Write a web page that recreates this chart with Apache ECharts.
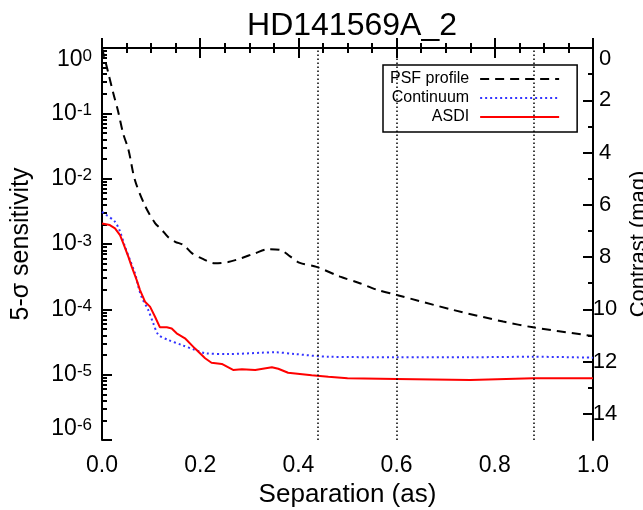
<!DOCTYPE html>
<html>
<head>
<meta charset="utf-8">
<script src="https://cdn.jsdelivr.net/npm/echarts@6/dist/echarts.min.js"></script>
<style>
  html, body { margin: 0; padding: 0; background: #fff; }
  #chart { width: 643px; height: 510px; }
</style>
</head>
<body>
<div id="chart"></div>
<script>
// separation (as) and 5-sigma sensitivity
const psfSep = [0, 0.013, 0.023, 0.033, 0.043, 0.054, 0.067, 0.088, 0.108, 0.122, 0.134, 0.149, 0.166, 0.183, 0.203, 0.23, 0.257, 0.285, 0.312, 0.339, 0.363, 0.383, 0.403, 0.437, 0.485, 0.525, 0.559, 0.6, 0.715, 0.817, 0.878, 1.0]
const psfVal = [1.0, 0.41, 0.203, 0.106, 0.0494, 0.0275, 0.00955, 0.0038, 0.00209, 0.00164, 0.00129, 0.00108, 0.000966, 0.000724, 0.000603, 0.000507, 0.00053, 0.000611, 0.000724, 0.000832, 0.000813, 0.000646, 0.000513, 0.000447, 0.000316, 0.000251, 0.0002, 0.000166, 9.8e-5, 6.5e-5, 5.3e-5, 3.9e-5]

const contSep = [0, 0.006, 0.0265, 0.0367, 0.0468, 0.057, 0.0672, 0.074, 0.081, 0.094, 0.1045, 0.1147, 0.135, 0.162, 0.189, 0.21, 0.257, 0.325, 0.352, 0.393, 0.461, 0.6, 0.75, 0.878, 1.0]
const contVal = [3.1e-3, 2.88e-3, 2.19e-3, 1.55e-3, 9.1e-4, 5.7e-4, 3.55e-4, 2.22e-4, 1.52e-4, 9.8e-5, 6.1e-5, 4.1e-5, 3.4e-5, 2.85e-5, 2.4e-5, 2.13e-5, 2.07e-5, 2.17e-5, 2.2e-5, 2.07e-5, 1.88e-5, 1.85e-5, 1.85e-5, 1.88e-5, 1.82e-5]

const asdiSep = [0, 0.016, 0.0265, 0.0367, 0.0434, 0.0536, 0.0605, 0.0707, 0.0774, 0.0876, 0.0978, 0.108, 0.118, 0.132, 0.142, 0.152, 0.169, 0.189, 0.21, 0.223, 0.244, 0.267, 0.285, 0.312, 0.346, 0.359, 0.379, 0.427, 0.461, 0.5, 0.6, 0.75, 0.878, 1.0]
const asdiVal = [2.06e-3, 1.95e-3, 1.74e-3, 1.37e-3, 1.02e-3, 6.4e-4, 4.5e-4, 2.8e-4, 1.97e-4, 1.31e-4, 1.1e-4, 7.7e-5, 5.3e-5, 5.3e-5, 5.1e-5, 4.3e-5, 3.6e-5, 2.53e-5, 1.78e-5, 1.52e-5, 1.46e-5, 1.18e-5, 1.21e-5, 1.18e-5, 1.3e-5, 1.23e-5, 1.07e-5, 9.8e-6, 9.3e-6, 8.8e-6, 8.6e-6, 8.3e-6, 8.8e-6, 8.8e-6]

// vertical dotted markers
const markSep = [0.44, 0.6, 0.88]

// contrast (mag) ticks on the right
const magMajor = [0, 2, 4, 6, 8, 10, 12, 14]
const magMinor = [1, 3, 5, 7, 9, 11, 13]

// minor log ticks (2..9 in each decade), as log10 positions
const decades = [-6, -5, -4, -3, -2, -1]
const logMinor = []
decades.forEach(d => {
  for (let m = 2; m <= 9; m++) logMinor.push(d + Math.log10(m))
})

const font = 'Liberation Sans, Arial, Helvetica, sans-serif'
const pairs = (xs, ys) => xs.map((x, i) => [x, ys[i]])

const chart = echarts.init(document.getElementById('chart'), null, { renderer: 'canvas' })

const xCommon = {
  type: 'value',
  min: 0,
  max: 1,
  interval: 0.2,
  splitLine: { show: false },
  axisLine: { lineStyle: { color: '#000', width: 2 } },
  axisTick: { inside: true, length: 10, lineStyle: { color: '#000', width: 2 } },
  minorTick: { show: true, splitNumber: 4, length: 5, lineStyle: { color: '#000', width: 2 } }
}

var option = {
  animation: false,
  backgroundColor: '#fff',
  title: {
    text: 'HD141569A_2',
    left: 347,
    top: 5,
    textAlign: 'center',
    textStyle: { fontFamily: font, fontSize: 32, fontWeight: 'normal', color: '#000' }
  },
  grid: { left: 102, right: 50, top: 48, bottom: 70, outerBoundsMode: 'none', containLabel: false },
  legend: {
    orient: 'vertical',
    left: 383,
    top: 65,
    align: 'right',
    itemWidth: 79,
    itemHeight: 14,
    itemGap: 3,
    padding: [6, 17, 7, 7],
    borderColor: '#000',
    borderWidth: 1.5,
    borderRadius: 0,
    itemStyle: { opacity: 0 },
    textStyle: { fontFamily: font, fontSize: 16, color: '#000', padding: [0, 6, 0, 0] },
    data: ['PSF profile', 'Continuum', 'ASDI']
  },
  xAxis: [
    Object.assign({}, xCommon, {
      position: 'bottom',
      name: 'Separation (as)',
      nameLocation: 'middle',
      nameGap: 38,
      nameTextStyle: { fontFamily: font, fontSize: 26, color: '#000' },
      axisLabel: {
        margin: 14,
        fontFamily: font,
        fontSize: 23,
        color: '#000',
        formatter: v => v.toFixed(1)
      }
    }),
    Object.assign({}, xCommon, {
      position: 'top',
      axisLabel: { show: false }
    })
  ],
  yAxis: [
    {
      type: 'log',
      logBase: 10,
      min: 1e-6,
      max: 1,
      position: 'left',
      name: '5-σ sensitivity',
      nameLocation: 'middle',
      nameGap: 68,
      nameRotate: 90,
      nameTextStyle: { fontFamily: font, fontSize: 25, color: '#000' },
      splitLine: { show: false },
      axisLine: { lineStyle: { color: '#000', width: 2 } },
      axisTick: { inside: true, length: 10, lineStyle: { color: '#000', width: 2 } },
      axisLabel: {
        margin: 10,
        color: '#000',
        fontFamily: font,
        verticalAlignMaxLabel: 'top',
        verticalAlignMinLabel: 'bottom',
        formatter: v => '{b|10}{s|' + Math.round(Math.log10(v)) + '}',
        rich: {
          b: { fontFamily: font, fontSize: 23, color: '#000' },
          s: { fontFamily: font, fontSize: 17, color: '#000', verticalAlign: 'top' }
        }
      }
    },
    {
      type: 'value',
      min: -6,
      max: 0,
      position: 'left',
      splitLine: { show: false },
      axisLine: { show: false },
      axisLabel: { show: false },
      axisTick: { inside: true, length: 5, customValues: logMinor, lineStyle: { color: '#000', width: 2 } }
    },
    {
      type: 'value',
      min: 0,
      max: 15,
      interval: 2,
      inverse: true,
      position: 'right',
      name: 'Contrast (mag)',
      nameLocation: 'middle',
      nameGap: 34,
      nameRotate: 90,
      nameTextStyle: { fontFamily: font, fontSize: 22, color: '#000' },
      splitLine: { show: false },
      axisLine: { lineStyle: { color: '#000', width: 2 } },
      axisTick: { inside: true, length: 10, customValues: magMajor, lineStyle: { color: '#000', width: 2 } },
      axisLabel: {
        customValues: magMajor,
        align: 'center',
        margin: 12,
        fontFamily: font,
        fontSize: 22,
        color: '#000',
        verticalAlignMinLabel: 'top'
      }
    },
    {
      type: 'value',
      min: 0,
      max: 15,
      inverse: true,
      position: 'right',
      splitLine: { show: false },
      axisLine: { show: false },
      axisLabel: { show: false },
      axisTick: { inside: true, length: 5, customValues: magMinor, lineStyle: { color: '#000', width: 2 } }
    }
  ],
  series: [
    {
      name: 'PSF profile',
      type: 'line',
      symbol: 'none',
      data: pairs(psfSep, psfVal),
      smooth: 0.3,
      lineStyle: { color: '#000', width: 2, type: [9, 6] },
      itemStyle: { color: '#000' },
      markLine: {
        silent: true,
        symbol: 'none',
        label: { show: false },
        lineStyle: { color: '#000', width: 1.5, type: [1.5, 2.5] },
        data: markSep.map(x => ({ xAxis: x }))
      }
    },
    {
      name: 'Continuum',
      type: 'line',
      symbol: 'none',
      data: pairs(contSep, contVal),
      smooth: 0.3,
      lineStyle: { color: '#3333ff', width: 2, type: [2, 3] },
      itemStyle: { color: '#3333ff' }
    },
    {
      name: 'ASDI',
      type: 'line',
      symbol: 'none',
      data: pairs(asdiSep, asdiVal),
      lineStyle: { color: '#ff0000', width: 2 },
      itemStyle: { color: '#ff0000' }
    }
  ]
}

chart.setOption(option)
</script>
</body>
</html>
